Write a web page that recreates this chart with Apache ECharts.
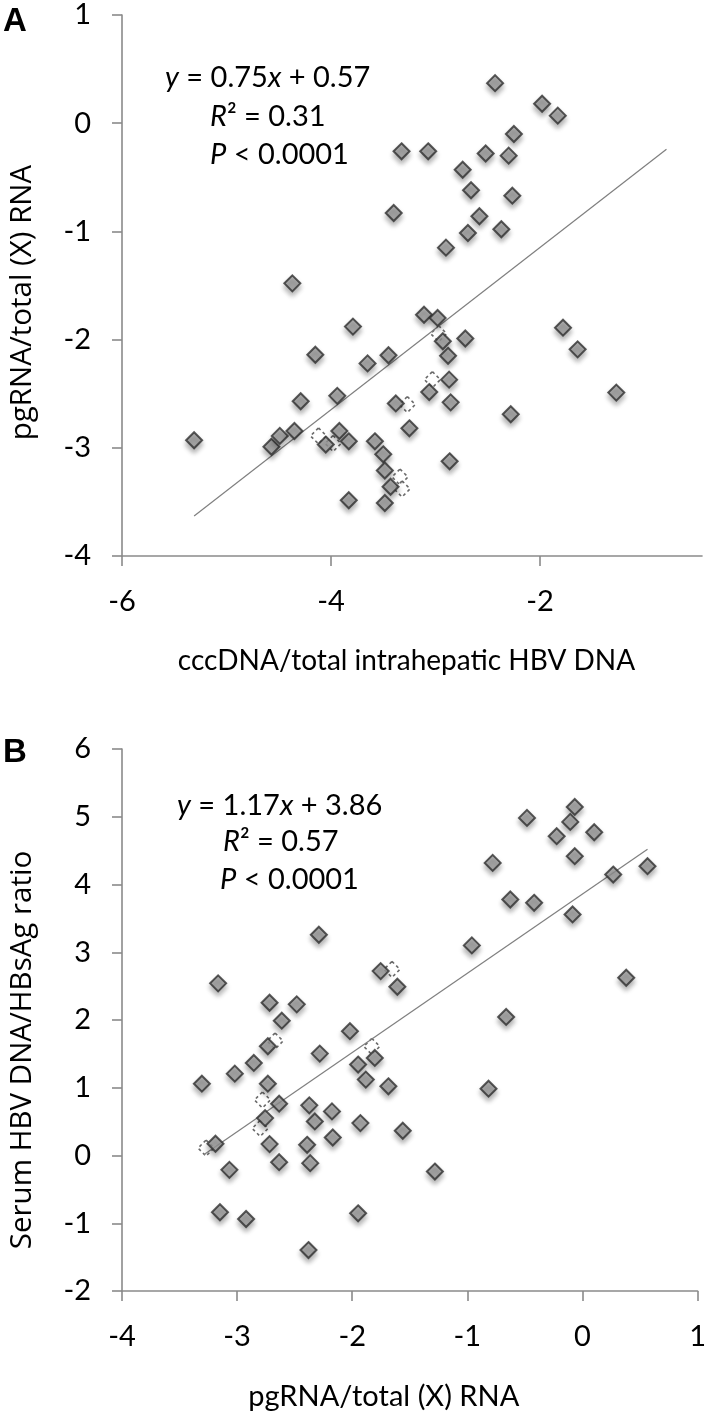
<!DOCTYPE html>
<html>
<head>
<meta charset="utf-8">
<script src="https://cdn.jsdelivr.net/npm/echarts@6/dist/echarts.min.js"></script>
<style>
html,body{margin:0;padding:0;background:#fff;}
#c{width:709px;height:1422px;}
</style>
</head>
<body>
<div id="c"></div>
<script>
// Panel A: x = cccDNA/total intrahepatic HBV DNA, y = pgRNA/total (X) RNA
const pointsA = [[-5.31,-2.93],[-4.57,-2.99],[-4.49,-2.89],[-4.35,-2.845],[-4.37,-1.48],[-4.29,-2.57],[-4.15,-2.14],[-4.05,-2.97],[-3.94,-2.52],[-3.92,-2.845],[-3.83,-2.94],[-3.79,-1.88],[-3.83,-3.485],[-3.65,-2.22],[-3.58,-2.94],[-3.50,-3.06],[-3.485,-3.21],[-3.43,-3.36],[-3.485,-3.51],[-3.45,-2.145],[-3.40,-0.83],[-3.38,-2.59],[-3.325,-0.26],[-3.25,-2.82],[-3.11,-1.77],[-3.07,-0.26],[-3.06,-2.485],[-2.98,-1.80],[-2.93,-2.015],[-2.90,-1.15],[-2.88,-2.15],[-2.87,-2.37],[-2.855,-2.58],[-2.865,-3.125],[-2.74,-0.43],[-2.715,-1.99],[-2.69,-1.015],[-2.66,-0.62],[-2.58,-0.86],[-2.52,-0.28],[-2.43,0.37],[-2.37,-0.98],[-2.30,-0.30],[-2.28,-2.69],[-2.265,-0.67],[-2.25,-0.10],[-1.98,0.18],[-1.83,0.07],[-1.78,-1.89],[-1.64,-2.09],[-1.27,-2.49]];
const hiddenA = [[-4.12,-2.89],[-3.98,-2.96],[-3.34,-3.27],[-3.32,-3.38],[-3.27,-2.60],[-3.03,-2.37],[-2.97,-1.945]];
const trendA = [[-5.31,-3.63],[-0.79,-0.24]];
const xTicksA = [-6,-4,-2];
const eqA = ['y = 0.75x + 0.57','R² = 0.31','P < 0.0001'];

// Panel B: x = pgRNA/total (X) RNA, y = Serum HBV DNA/HBsAg ratio
const pointsB = [[-0.067,5.145],[-0.482,4.983],[-0.106,4.924],[-0.224,4.713],[0.102,4.771],[-0.067,4.418],[-0.78,4.319],[0.565,4.27],[0.267,4.147],[-0.627,3.779],[-0.42,3.73],[-0.086,3.558],[-2.29,3.258],[-0.961,3.101],[-1.753,2.722],[-1.608,2.491],[-3.165,2.541],[0.38,2.624],[-2.718,2.255],[-2.482,2.231],[-2.612,1.99],[-0.663,2.045],[-2.02,1.835],[-2.733,1.613],[-2.282,1.504],[-1.804,1.44],[-1.949,1.342],[-2.855,1.366],[-3.02,1.208],[-3.306,1.06],[-2.733,1.06],[-1.882,1.12],[-1.686,1.021],[-0.816,0.986],[-2.635,0.765],[-2.373,0.74],[-2.176,0.651],[-2.325,0.503],[-2.757,0.552],[-1.929,0.478],[-2.169,0.266],[-1.561,0.365],[-2.718,0.168],[-2.392,0.158],[-3.188,0.173],[-2.635,-0.099],[-2.365,-0.113],[-3.067,-0.212],[-1.282,-0.237],[-3.149,-0.838],[-2.922,-0.937],[-1.949,-0.853],[-2.38,-1.396]];
const hiddenB = [[-1.655,2.747],[-2.67,1.69],[-1.83,1.61],[-2.78,0.82],[-2.80,0.40],[-3.27,0.11]];
const trendB = [[-3.29,0.01],[0.565,4.52]];
const eqB = ['y = 1.17x + 3.86','R² = 0.57','P < 0.0001'];

const FONT = 'Lato';
const AXIS_COLOR = '#8a8a8a';

const markerStyle = {
  color: '#a0a0a0',
  borderColor: '#2e2e2e',
  borderWidth: 2,
  shadowBlur: 5,
  shadowOffsetY: 4,
  shadowColor: 'rgba(0,0,0,0.35)'
};
const hiddenStyle = {
  color: '#ffffff',
  borderColor: '#444',
  borderWidth: 1.6,
  borderType: [3, 3]
};

function xAxisCfg(gi, min, max, interval, name, nameSize, padR, custom) {
  const cfg = {
    gridIndex: gi, type: 'value', min: min, max: max, interval: interval,
    name: name, nameLocation: 'middle', nameGap: 91,
    nameTextStyle: { fontFamily: FONT, fontSize: nameSize, color: '#000', padding: [0, padR, 0, 0] },
    axisLine: { show: true, onZero: false, lineStyle: { color: AXIS_COLOR, width: 1.6 } },
    axisTick: { show: true, inside: false, length: 10, lineStyle: { color: AXIS_COLOR, width: 1.6 } },
    axisLabel: { fontFamily: FONT, fontSize: 29, color: '#000', margin: 31 },
    splitLine: { show: false }
  };
  if (custom) { cfg.axisLabel.customValues = custom; cfg.axisTick.customValues = custom; }
  return cfg;
}
function yAxisCfg(gi, min, max, interval, name, padR) {
  return {
    gridIndex: gi, type: 'value', min: min, max: max, interval: interval,
    name: name, nameLocation: 'middle', nameRotate: 90, nameGap: 84,
    nameTextStyle: { fontFamily: 'Open Sans', fontSize: 29.5, color: '#000', padding: [0, padR, 0, 0] },
    axisLine: { show: true, onZero: false, lineStyle: { color: AXIS_COLOR, width: 1.6 } },
    axisTick: { show: true, inside: false, length: 10, lineStyle: { color: AXIS_COLOR, width: 1.6 } },
    axisLabel: { fontFamily: FONT, fontSize: 29, color: '#000', margin: 31 },
    splitLine: { show: false }
  };
}
function eqText(lines, xs, ys) {
  const rich = {
    i: { fontFamily: FONT, fontSize: 29, fontStyle: 'italic', fill: '#000' },
    n: { fontFamily: FONT, fontSize: 29, fill: '#000' }
  };
  const fmt = [
    s => s.replace(/^y(.*?)x(.*)$/, '{i|y}{n|$1}{i|x}{n|$2}'),
    s => s.replace(/^R(.*)$/, '{i|R}{n|$1}'),
    s => s.replace(/^P(.*)$/, '{i|P}{n|$1}')
  ];
  return lines.map((t, k) => ({
    type: 'text', x: xs[k], y: ys[k], z: 10,
    style: { text: fmt[k](t), rich: rich, fontFamily: FONT, fontSize: 29, fill: '#000', align: 'left', verticalAlign: 'middle' }
  }));
}

const option = {
  animation: false,
  backgroundColor: '#fff',
  grid: [
    { left: 122, top: 15, width: 580, height: 541 },
    { left: 122, top: 749, width: 580, height: 542 }
  ],
  xAxis: [
    xAxisCfg(0, -6, -0.45, 2, 'cccDNA/total intrahepatic HBV DNA', 28, 11, xTicksA),
    xAxisCfg(1, -4, 1, 1, 'pgRNA/total (X) RNA', 29, 52, null)
  ],
  yAxis: [
    yAxisCfg(0, -4, 1, 1, 'pgRNA/total (X) RNA', 34),
    yAxisCfg(1, -2, 6, 1, 'Serum HBV DNA/HBsAg ratio', 60)
  ],
  series: [
    { type: 'scatter', xAxisIndex: 0, yAxisIndex: 0, data: hiddenA, symbol: 'diamond', symbolSize: 16, itemStyle: hiddenStyle, z: 1 },
    { type: 'line', xAxisIndex: 0, yAxisIndex: 0, data: trendA, symbol: 'none', lineStyle: { color: '#7f7f7f', width: 1.2 }, z: 2 },
    { type: 'scatter', xAxisIndex: 0, yAxisIndex: 0, data: pointsA, symbol: 'diamond', symbolSize: 16, itemStyle: markerStyle, z: 3 },
    { type: 'scatter', xAxisIndex: 1, yAxisIndex: 1, data: hiddenB, symbol: 'diamond', symbolSize: 16, itemStyle: hiddenStyle, z: 1 },
    { type: 'line', xAxisIndex: 1, yAxisIndex: 1, data: trendB, symbol: 'none', lineStyle: { color: '#7f7f7f', width: 1.2 }, z: 2 },
    { type: 'scatter', xAxisIndex: 1, yAxisIndex: 1, data: pointsB, symbol: 'diamond', symbolSize: 16, itemStyle: markerStyle, z: 3 }
  ],
  graphic: [
    { type: 'text', x: 3, y: 22, style: { text: 'A', fontFamily: 'Liberation Sans', fontWeight: 'bold', fontSize: 33, fill: '#000', verticalAlign: 'middle' } },
    { type: 'text', x: 3, y: 753, style: { text: 'B', fontFamily: 'Liberation Sans', fontWeight: 'bold', fontSize: 33, fill: '#000', verticalAlign: 'middle' } }
  ].concat(eqText(eqA, [165, 210, 210], [78, 117, 155]))
   .concat(eqText(eqB, [177, 223, 220], [806, 842, 880]))
};

const chart = echarts.init(document.getElementById('c'), null, { renderer: 'canvas' });
chart.setOption(option);
</script>
</body>
</html>
